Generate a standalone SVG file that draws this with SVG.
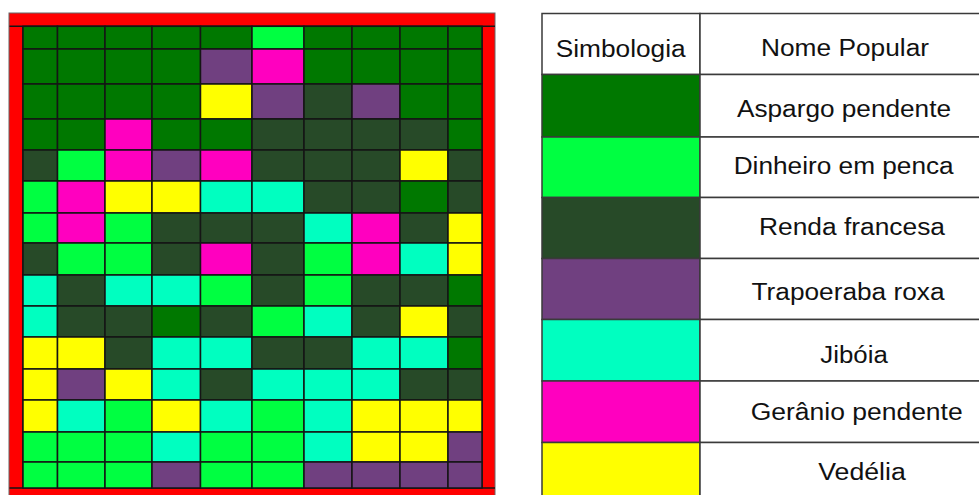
<svg xmlns="http://www.w3.org/2000/svg" width="979" height="495" viewBox="0 0 979 495">
<style>
.A{fill:#007800}.B{fill:#00FF41}.C{fill:#274A28}.D{fill:#704080}.E{fill:#00FFC0}.F{fill:#FF00BF}.G{fill:#FFFF00}
#grid rect{stroke:#151515;stroke-width:1.5}
#legend rect{stroke:#3a3a3a;stroke-width:1.5}
text{font-family:"Liberation Sans",Arial,sans-serif;font-size:23.5px;fill:#111;text-anchor:middle}
</style>
<rect width="979" height="495" fill="#ffffff"/>
<g id="frame">
<rect x="9" y="13" width="486" height="490" fill="#FF0000" stroke="#666" stroke-width="1"/>
<path d="M9.5 26.3H495M9.5 488H495M23 26.3V488M482 26.3V488" stroke="#151515" stroke-width="1.5" fill="none"/>
</g>
<g id="grid">
<g id="row0">
<rect class="A" x="23" y="26.3" width="34.5" height="22.7"/><rect class="A" x="57.5" y="26.3" width="47.5" height="22.7"/><rect class="A" x="105" y="26.3" width="47" height="22.7"/><rect class="A" x="152" y="26.3" width="48.5" height="22.7"/><rect class="A" x="200.5" y="26.3" width="51.5" height="22.7"/><rect class="B" x="252" y="26.3" width="52" height="22.7"/><rect class="A" x="304" y="26.3" width="48" height="22.7"/><rect class="A" x="352" y="26.3" width="48" height="22.7"/><rect class="A" x="400" y="26.3" width="48" height="22.7"/><rect class="A" x="448" y="26.3" width="34" height="22.7"/>
</g>
<g id="row1">
<rect class="A" x="23" y="49" width="34.5" height="35"/><rect class="A" x="57.5" y="49" width="47.5" height="35"/><rect class="A" x="105" y="49" width="47" height="35"/><rect class="A" x="152" y="49" width="48.5" height="35"/><rect class="D" x="200.5" y="49" width="51.5" height="35"/><rect class="F" x="252" y="49" width="52" height="35"/><rect class="A" x="304" y="49" width="48" height="35"/><rect class="A" x="352" y="49" width="48" height="35"/><rect class="A" x="400" y="49" width="48" height="35"/><rect class="A" x="448" y="49" width="34" height="35"/>
</g>
<g id="row2">
<rect class="A" x="23" y="84" width="34.5" height="35"/><rect class="A" x="57.5" y="84" width="47.5" height="35"/><rect class="A" x="105" y="84" width="47" height="35"/><rect class="A" x="152" y="84" width="48.5" height="35"/><rect class="G" x="200.5" y="84" width="51.5" height="35"/><rect class="D" x="252" y="84" width="52" height="35"/><rect class="C" x="304" y="84" width="48" height="35"/><rect class="D" x="352" y="84" width="48" height="35"/><rect class="A" x="400" y="84" width="48" height="35"/><rect class="A" x="448" y="84" width="34" height="35"/>
</g>
<g id="row3">
<rect class="A" x="23" y="119" width="34.5" height="31"/><rect class="A" x="57.5" y="119" width="47.5" height="31"/><rect class="F" x="105" y="119" width="47" height="31"/><rect class="A" x="152" y="119" width="48.5" height="31"/><rect class="A" x="200.5" y="119" width="51.5" height="31"/><rect class="C" x="252" y="119" width="52" height="31"/><rect class="C" x="304" y="119" width="48" height="31"/><rect class="C" x="352" y="119" width="48" height="31"/><rect class="C" x="400" y="119" width="48" height="31"/><rect class="A" x="448" y="119" width="34" height="31"/>
</g>
<g id="row4">
<rect class="C" x="23" y="150" width="34.5" height="31"/><rect class="B" x="57.5" y="150" width="47.5" height="31"/><rect class="F" x="105" y="150" width="47" height="31"/><rect class="D" x="152" y="150" width="48.5" height="31"/><rect class="F" x="200.5" y="150" width="51.5" height="31"/><rect class="C" x="252" y="150" width="52" height="31"/><rect class="C" x="304" y="150" width="48" height="31"/><rect class="C" x="352" y="150" width="48" height="31"/><rect class="G" x="400" y="150" width="48" height="31"/><rect class="C" x="448" y="150" width="34" height="31"/>
</g>
<g id="row5">
<rect class="B" x="23" y="181" width="34.5" height="32"/><rect class="F" x="57.5" y="181" width="47.5" height="32"/><rect class="G" x="105" y="181" width="47" height="32"/><rect class="G" x="152" y="181" width="48.5" height="32"/><rect class="E" x="200.5" y="181" width="51.5" height="32"/><rect class="E" x="252" y="181" width="52" height="32"/><rect class="C" x="304" y="181" width="48" height="32"/><rect class="C" x="352" y="181" width="48" height="32"/><rect class="A" x="400" y="181" width="48" height="32"/><rect class="C" x="448" y="181" width="34" height="32"/>
</g>
<g id="row6">
<rect class="B" x="23" y="213" width="34.5" height="30"/><rect class="F" x="57.5" y="213" width="47.5" height="30"/><rect class="B" x="105" y="213" width="47" height="30"/><rect class="C" x="152" y="213" width="48.5" height="30"/><rect class="C" x="200.5" y="213" width="51.5" height="30"/><rect class="C" x="252" y="213" width="52" height="30"/><rect class="E" x="304" y="213" width="48" height="30"/><rect class="F" x="352" y="213" width="48" height="30"/><rect class="C" x="400" y="213" width="48" height="30"/><rect class="G" x="448" y="213" width="34" height="30"/>
</g>
<g id="row7">
<rect class="C" x="23" y="243" width="34.5" height="32"/><rect class="B" x="57.5" y="243" width="47.5" height="32"/><rect class="B" x="105" y="243" width="47" height="32"/><rect class="C" x="152" y="243" width="48.5" height="32"/><rect class="F" x="200.5" y="243" width="51.5" height="32"/><rect class="C" x="252" y="243" width="52" height="32"/><rect class="B" x="304" y="243" width="48" height="32"/><rect class="F" x="352" y="243" width="48" height="32"/><rect class="E" x="400" y="243" width="48" height="32"/><rect class="G" x="448" y="243" width="34" height="32"/>
</g>
<g id="row8">
<rect class="E" x="23" y="275" width="34.5" height="31"/><rect class="C" x="57.5" y="275" width="47.5" height="31"/><rect class="E" x="105" y="275" width="47" height="31"/><rect class="E" x="152" y="275" width="48.5" height="31"/><rect class="B" x="200.5" y="275" width="51.5" height="31"/><rect class="C" x="252" y="275" width="52" height="31"/><rect class="B" x="304" y="275" width="48" height="31"/><rect class="C" x="352" y="275" width="48" height="31"/><rect class="C" x="400" y="275" width="48" height="31"/><rect class="A" x="448" y="275" width="34" height="31"/>
</g>
<g id="row9">
<rect class="E" x="23" y="306" width="34.5" height="31"/><rect class="C" x="57.5" y="306" width="47.5" height="31"/><rect class="C" x="105" y="306" width="47" height="31"/><rect class="A" x="152" y="306" width="48.5" height="31"/><rect class="C" x="200.5" y="306" width="51.5" height="31"/><rect class="B" x="252" y="306" width="52" height="31"/><rect class="E" x="304" y="306" width="48" height="31"/><rect class="C" x="352" y="306" width="48" height="31"/><rect class="G" x="400" y="306" width="48" height="31"/><rect class="C" x="448" y="306" width="34" height="31"/>
</g>
<g id="row10">
<rect class="G" x="23" y="337" width="34.5" height="32"/><rect class="G" x="57.5" y="337" width="47.5" height="32"/><rect class="C" x="105" y="337" width="47" height="32"/><rect class="E" x="152" y="337" width="48.5" height="32"/><rect class="E" x="200.5" y="337" width="51.5" height="32"/><rect class="C" x="252" y="337" width="52" height="32"/><rect class="C" x="304" y="337" width="48" height="32"/><rect class="E" x="352" y="337" width="48" height="32"/><rect class="E" x="400" y="337" width="48" height="32"/><rect class="A" x="448" y="337" width="34" height="32"/>
</g>
<g id="row11">
<rect class="G" x="23" y="369" width="34.5" height="31"/><rect class="D" x="57.5" y="369" width="47.5" height="31"/><rect class="G" x="105" y="369" width="47" height="31"/><rect class="E" x="152" y="369" width="48.5" height="31"/><rect class="C" x="200.5" y="369" width="51.5" height="31"/><rect class="E" x="252" y="369" width="52" height="31"/><rect class="E" x="304" y="369" width="48" height="31"/><rect class="E" x="352" y="369" width="48" height="31"/><rect class="C" x="400" y="369" width="48" height="31"/><rect class="C" x="448" y="369" width="34" height="31"/>
</g>
<g id="row12">
<rect class="G" x="23" y="400" width="34.5" height="32"/><rect class="E" x="57.5" y="400" width="47.5" height="32"/><rect class="B" x="105" y="400" width="47" height="32"/><rect class="G" x="152" y="400" width="48.5" height="32"/><rect class="E" x="200.5" y="400" width="51.5" height="32"/><rect class="B" x="252" y="400" width="52" height="32"/><rect class="E" x="304" y="400" width="48" height="32"/><rect class="G" x="352" y="400" width="48" height="32"/><rect class="G" x="400" y="400" width="48" height="32"/><rect class="G" x="448" y="400" width="34" height="32"/>
</g>
<g id="row13">
<rect class="B" x="23" y="432" width="34.5" height="30"/><rect class="B" x="57.5" y="432" width="47.5" height="30"/><rect class="B" x="105" y="432" width="47" height="30"/><rect class="E" x="152" y="432" width="48.5" height="30"/><rect class="B" x="200.5" y="432" width="51.5" height="30"/><rect class="B" x="252" y="432" width="52" height="30"/><rect class="E" x="304" y="432" width="48" height="30"/><rect class="G" x="352" y="432" width="48" height="30"/><rect class="G" x="400" y="432" width="48" height="30"/><rect class="D" x="448" y="432" width="34" height="30"/>
</g>
<g id="row14">
<rect class="B" x="23" y="462" width="34.5" height="26"/><rect class="B" x="57.5" y="462" width="47.5" height="26"/><rect class="B" x="105" y="462" width="47" height="26"/><rect class="D" x="152" y="462" width="48.5" height="26"/><rect class="B" x="200.5" y="462" width="51.5" height="26"/><rect class="B" x="252" y="462" width="52" height="26"/><rect class="D" x="304" y="462" width="48" height="26"/><rect class="D" x="352" y="462" width="48" height="26"/><rect class="D" x="400" y="462" width="48" height="26"/><rect class="D" x="448" y="462" width="34" height="26"/>
</g>
</g>
<g id="legend">
<g id="header">
<rect x="542" y="13.5" width="158" height="61" fill="#fff"/>
<rect x="700" y="13.5" width="290" height="61" fill="#fff"/>
<text x="620.7" y="56.5" textLength="130" lengthAdjust="spacingAndGlyphs">Simbologia</text>
<text x="845" y="56" textLength="168" lengthAdjust="spacingAndGlyphs">Nome Popular</text>
</g>
<g id="leg-aspargo">
<rect class="A" x="542" y="74.5" width="158" height="62.5"/>
<rect x="700" y="74.5" width="290" height="62.5" fill="#fff"/>
<text x="844" y="117" textLength="214" lengthAdjust="spacingAndGlyphs">Aspargo pendente</text>
</g>
<g id="leg-dinheiro">
<rect class="B" x="542" y="137" width="158" height="60.5"/>
<rect x="700" y="137" width="290" height="60.5" fill="#fff"/>
<text x="843.7" y="174" textLength="220" lengthAdjust="spacingAndGlyphs">Dinheiro em penca</text>
</g>
<g id="leg-renda">
<rect class="C" x="542" y="197.5" width="158" height="61"/>
<rect x="700" y="197.5" width="290" height="61" fill="#fff"/>
<text x="852" y="235" textLength="186" lengthAdjust="spacingAndGlyphs">Renda francesa</text>
</g>
<g id="leg-trapoeraba">
<rect class="D" x="542" y="258.5" width="158" height="61"/>
<rect x="700" y="258.5" width="290" height="61" fill="#fff"/>
<text x="848" y="300" textLength="193" lengthAdjust="spacingAndGlyphs">Trapoeraba roxa</text>
</g>
<g id="leg-jiboia">
<rect class="E" x="542" y="319.5" width="158" height="61.5"/>
<rect x="700" y="319.5" width="290" height="61.5" fill="#fff"/>
<text x="854" y="363" textLength="67.5" lengthAdjust="spacingAndGlyphs">Jibóia</text>
</g>
<g id="leg-geranio">
<rect class="F" x="542" y="381" width="158" height="61.5"/>
<rect x="700" y="381" width="290" height="61.5" fill="#fff"/>
<text x="856.7" y="420" textLength="212" lengthAdjust="spacingAndGlyphs">Gerânio pendente</text>
</g>
<g id="leg-vedelia">
<rect class="G" x="542" y="442.5" width="158" height="62"/>
<rect x="700" y="442.5" width="290" height="62" fill="#fff"/>
<text x="862" y="480" textLength="87.5" lengthAdjust="spacingAndGlyphs">Vedélia</text>
</g>
</g>
</svg>
